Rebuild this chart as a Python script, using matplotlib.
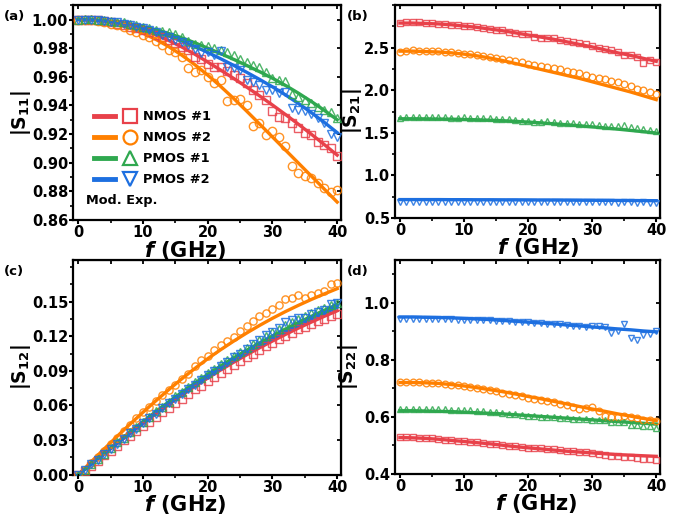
import numpy as np
import matplotlib
matplotlib.use("Agg")
import matplotlib.pyplot as plt
from matplotlib.lines import Line2D
from matplotlib.legend_handler import HandlerTuple
from matplotlib.ticker import MultipleLocator, FormatStrFormatter

plt.rcParams["font.family"] = ["DejaVu Sans"]
plt.rcParams["font.weight"] = "bold"
plt.rcParams["axes.labelweight"] = "bold"
plt.rcParams["mathtext.fontset"] = "custom"
plt.rcParams["mathtext.it"] = "DejaVu Sans:italic:bold"
plt.rcParams["mathtext.rm"] = "DejaVu Sans"
plt.rcParams["mathtext.default"] = "regular"

# frequency grids (GHz): model curves every 2 GHz, measurements every 1 GHz
f_mod = list(range(0, 41, 2))
f_exp = list(range(0, 41))

devices = ["NMOS #1", "NMOS #2", "PMOS #1", "PMOS #2"]
colors = ["#E8414A", "#FF8000", "#2FA84F", "#1D6FE0"]
markers = ["s", "o", "^", "v"]

# ---- |S11| ----
s11_mod_n1 = [1.0000, 0.9997, 0.9988, 0.9973, 0.9952, 0.9925, 0.9892, 0.9853, 0.9808, 0.9758, 0.9703,
              0.9647, 0.9589, 0.9529, 0.9467, 0.9403, 0.9337, 0.9269, 0.9199, 0.9127, 0.9053]
s11_mod_n2 = [1.0000, 0.9996, 0.9985, 0.9966, 0.9939, 0.9904, 0.9861, 0.9810, 0.9751, 0.9685, 0.9612,
              0.9533, 0.9449, 0.9361, 0.9271, 0.9180, 0.9089, 0.8998, 0.8907, 0.8816, 0.8725]
s11_mod_p1 = [1.0000, 0.9998, 0.9992, 0.9982, 0.9968, 0.9950, 0.9928, 0.9902, 0.9872, 0.9838, 0.9800,
              0.9762, 0.9722, 0.9680, 0.9636, 0.9590, 0.9540, 0.9486, 0.9428, 0.9366, 0.9300]
s11_mod_p2 = [1.0000, 0.9998, 0.9991, 0.9979, 0.9962, 0.9940, 0.9914, 0.9884, 0.9850, 0.9812, 0.9770,
              0.9726, 0.9680, 0.9632, 0.9582, 0.9530, 0.9474, 0.9414, 0.9350, 0.9282, 0.9210]
s11_exp_n1 = [1.000, 1.000, 0.9998, 0.9995, 0.999, 0.998, 0.997, 0.996, 0.995, 0.994, 0.9925, 0.991, 0.9895,
              0.9875, 0.9855, 0.9835, 0.981, 0.9785, 0.9735, 0.9725, 0.969, 0.967, 0.9665, 0.964, 0.961,
              0.959, 0.956, 0.951, 0.947, 0.944, 0.936, 0.932, 0.9315, 0.928, 0.924, 0.921, 0.9195, 0.9145,
              0.9125, 0.910, 0.9045]
s11_exp_n2 = [1.000, 1.000, 0.9995, 0.999, 0.998, 0.997, 0.9965, 0.995, 0.993, 0.991, 0.989, 0.9875, 0.985,
              0.982, 0.979, 0.977, 0.974, 0.966, 0.9633, 0.9645, 0.960, 0.9556, 0.9575, 0.943, 0.9436,
              0.9448, 0.940, 0.9255, 0.9278, 0.919, 0.922, 0.9176, 0.912, 0.898, 0.893, 0.891, 0.889, 0.886,
              0.882, 0.8797, 0.881]
s11_exp_p1 = [1.000, 1.0005, 1.0003, 1.000, 0.9995, 0.999, 0.9985, 0.998, 0.997, 0.996, 0.995, 0.994, 0.993,
              0.992, 0.9915, 0.990, 0.9875, 0.985, 0.983, 0.982, 0.9815, 0.980, 0.9785, 0.977, 0.975, 0.9725,
              0.9705, 0.968, 0.9665, 0.963, 0.9595, 0.958, 0.957, 0.948, 0.946, 0.944, 0.9415, 0.939, 0.937,
              0.9355, 0.931]
s11_exp_p2 = [1.000, 1.000, 0.9998, 0.9995, 0.999, 0.9985, 0.998, 0.997, 0.996, 0.995, 0.994, 0.9925, 0.991,
              0.9895, 0.9875, 0.986, 0.984, 0.982, 0.9795, 0.9765, 0.977, 0.9755, 0.978, 0.967, 0.966, 0.9645,
              0.958, 0.9565, 0.954, 0.951, 0.951, 0.949, 0.9495, 0.938, 0.937, 0.936, 0.934, 0.9315, 0.928,
              0.920, 0.918]

# ---- |S21| ----
s21_mod_n1 = [2.79, 2.79, 2.785, 2.78, 2.77, 2.755, 2.74, 2.72, 2.70, 2.675, 2.65, 2.625, 2.60, 2.57, 2.54,
              2.51, 2.475, 2.44, 2.41, 2.375, 2.34]
s21_mod_n2 = [2.46, 2.46, 2.455, 2.45, 2.44, 2.425, 2.405, 2.38, 2.35, 2.315, 2.28, 2.245, 2.21, 2.175, 2.14,
              2.10, 2.06, 2.02, 1.98, 1.935, 1.89]
s21_mod_p1 = [1.665, 1.665, 1.664, 1.662, 1.660, 1.657, 1.653, 1.648, 1.642, 1.635, 1.626, 1.617, 1.606, 1.595,
              1.583, 1.570, 1.557, 1.543, 1.528, 1.513, 1.497]
s21_mod_p2 = [0.715, 0.715, 0.715, 0.715, 0.714, 0.714, 0.713, 0.713, 0.712, 0.712, 0.711, 0.710, 0.710, 0.709,
              0.708, 0.707, 0.706, 0.705, 0.704, 0.703, 0.702]
s21_exp_n1 = [2.79, 2.80, 2.80, 2.80, 2.79, 2.79, 2.78, 2.78, 2.77, 2.77, 2.76, 2.75, 2.74, 2.73, 2.72, 2.71,
              2.71, 2.69, 2.67, 2.66, 2.66, 2.63, 2.62, 2.61, 2.61, 2.59, 2.58, 2.57, 2.55, 2.54, 2.52, 2.50,
              2.49, 2.47, 2.45, 2.42, 2.41, 2.39, 2.32, 2.35, 2.33]
s21_exp_n2 = [2.45, 2.46, 2.47, 2.46, 2.46, 2.46, 2.46, 2.45, 2.45, 2.44, 2.43, 2.43, 2.41, 2.40, 2.39, 2.38,
              2.37, 2.36, 2.34, 2.33, 2.31, 2.30, 2.29, 2.27, 2.26, 2.25, 2.23, 2.22, 2.20, 2.18, 2.16, 2.14,
              2.13, 2.11, 2.10, 2.07, 2.05, 2.02, 2.00, 1.98, 1.96]
s21_exp_p1 = [1.67, 1.68, 1.68, 1.68, 1.68, 1.68, 1.68, 1.68, 1.67, 1.67, 1.68, 1.67, 1.67, 1.67, 1.67, 1.66,
              1.66, 1.66, 1.65, 1.64, 1.64, 1.63, 1.63, 1.64, 1.63, 1.62, 1.62, 1.61, 1.60, 1.60, 1.60, 1.59,
              1.58, 1.58, 1.58, 1.59, 1.57, 1.56, 1.55, 1.53, 1.52]
s21_exp_p2 = [0.690, 0.688, 0.690, 0.688, 0.690, 0.689, 0.690, 0.689, 0.690, 0.689, 0.690, 0.689, 0.689, 0.690,
              0.688, 0.689, 0.690, 0.688, 0.689, 0.690, 0.688, 0.689, 0.690, 0.688, 0.689, 0.688, 0.687, 0.688,
              0.686, 0.688, 0.687, 0.686, 0.685, 0.686, 0.678, 0.684, 0.683, 0.675, 0.682, 0.680, 0.679]

# ---- |S12| ----
s12_mod_n1 = [0.0, 0.0090, 0.0180, 0.0269, 0.0357, 0.0443, 0.0527, 0.0609, 0.0688, 0.0764, 0.0837, 0.0907,
              0.0974, 0.1038, 0.1099, 0.1158, 0.1215, 0.1270, 0.1322, 0.1372, 0.1420]
s12_mod_n2 = [0.0, 0.0112, 0.0223, 0.0332, 0.0438, 0.0541, 0.0641, 0.0738, 0.0831, 0.0920, 0.1005, 0.1083,
              0.1157, 0.1227, 0.1293, 0.1355, 0.1413, 0.1467, 0.1518, 0.1566, 0.1612]
s12_mod_p1 = [0.0, 0.0094, 0.0187, 0.0279, 0.0370, 0.0460, 0.0547, 0.0632, 0.0714, 0.0793, 0.0869, 0.0942,
              0.1012, 0.1078, 0.1141, 0.1202, 0.1262, 0.1318, 0.1372, 0.1424, 0.1475]
s12_mod_p2 = [0.0, 0.0092, 0.0183, 0.0273, 0.0362, 0.0450, 0.0535, 0.0618, 0.0698, 0.0775, 0.0849, 0.0920,
              0.0988, 0.1053, 0.1115, 0.1180, 0.1240, 0.1295, 0.1350, 0.1400, 0.1450]
s12_exp_n1 = [0.0, 0.003, 0.008, 0.012, 0.017, 0.021, 0.025, 0.030, 0.034, 0.038, 0.042, 0.046, 0.050, 0.054,
              0.058, 0.062, 0.066, 0.070, 0.074, 0.077, 0.081, 0.085, 0.088, 0.092, 0.095, 0.0985, 0.102, 0.105,
              0.108, 0.1115, 0.1145, 0.1175, 0.120, 0.123, 0.126, 0.128, 0.1305, 0.133, 0.135, 0.1375, 0.139]
s12_exp_n2 = [0.0, 0.004, 0.010, 0.015, 0.021, 0.027, 0.032, 0.038, 0.043, 0.049, 0.054, 0.059, 0.064, 0.069,
              0.073, 0.078, 0.083, 0.087, 0.0939, 0.0997, 0.1026, 0.1084, 0.1127, 0.1156, 0.1194, 0.1243,
              0.1286, 0.133, 0.1373, 0.1402, 0.1437, 0.1474, 0.1524, 0.1532, 0.1561, 0.1532, 0.1561, 0.1576,
              0.159, 0.1648, 0.1663]
s12_exp_p1 = [0.0, 0.004, 0.009, 0.014, 0.018, 0.023, 0.028, 0.032, 0.037, 0.041, 0.046, 0.050, 0.055, 0.059,
              0.063, 0.068, 0.072, 0.076, 0.080, 0.084, 0.088, 0.092, 0.096, 0.0995, 0.103, 0.1065, 0.110,
              0.1135, 0.117, 0.120, 0.1235, 0.1265, 0.1295, 0.1325, 0.135, 0.1375, 0.140, 0.1425, 0.1445,
              0.147, 0.149]
s12_exp_p2 = [0.0, 0.004, 0.009, 0.013, 0.018, 0.022, 0.027, 0.031, 0.036, 0.040, 0.045, 0.049, 0.053, 0.058,
              0.062, 0.066, 0.070, 0.074, 0.078, 0.082, 0.086, 0.090, 0.094, 0.098, 0.102, 0.105, 0.109,
              0.1135, 0.117, 0.121, 0.124, 0.127, 0.132, 0.134, 0.136, 0.136, 0.139, 0.141, 0.143, 0.148, 0.149]

# ---- |S22| ----
s22_mod_n1 = [0.527, 0.526, 0.524, 0.521, 0.517, 0.513, 0.509, 0.505, 0.500, 0.495, 0.491, 0.487, 0.483,
              0.479, 0.476, 0.473, 0.470, 0.467, 0.465, 0.463, 0.461]
s22_mod_n2 = [0.720, 0.720, 0.719, 0.717, 0.713, 0.708, 0.702, 0.695, 0.688, 0.680, 0.671, 0.663, 0.654,
              0.645, 0.636, 0.627, 0.619, 0.610, 0.602, 0.594, 0.586]
s22_mod_p1 = [0.621, 0.621, 0.620, 0.619, 0.618, 0.616, 0.614, 0.612, 0.610, 0.607, 0.604, 0.601, 0.598,
              0.595, 0.592, 0.589, 0.586, 0.583, 0.580, 0.577, 0.574]
s22_mod_p2 = [0.950, 0.950, 0.949, 0.948, 0.947, 0.945, 0.943, 0.941, 0.938, 0.935, 0.932, 0.929, 0.926,
              0.922, 0.919, 0.915, 0.912, 0.908, 0.905, 0.901, 0.898]
s22_exp_n1 = [0.530, 0.529, 0.529, 0.527, 0.526, 0.524, 0.522, 0.520, 0.518, 0.516, 0.514, 0.512, 0.510,
              0.508, 0.506, 0.503, 0.501, 0.498, 0.496, 0.494, 0.492, 0.490, 0.489, 0.487, 0.485, 0.483,
              0.480, 0.478, 0.476, 0.475, 0.474, 0.470, 0.465, 0.463, 0.461, 0.459, 0.457, 0.455, 0.453,
              0.451, 0.447]
s22_exp_n2 = [0.722, 0.723, 0.722, 0.721, 0.720, 0.718, 0.717, 0.715, 0.713, 0.711, 0.708, 0.704, 0.701,
              0.698, 0.694, 0.689, 0.684, 0.680, 0.676, 0.672, 0.667, 0.663, 0.659, 0.654, 0.650, 0.646,
              0.641, 0.633, 0.628, 0.631, 0.633, 0.620, 0.604, 0.598, 0.600, 0.602, 0.598, 0.594, 0.590,
              0.588, 0.585]
s22_exp_p1 = [0.627, 0.627, 0.627, 0.627, 0.627, 0.626, 0.626, 0.626, 0.625, 0.624, 0.623, 0.622, 0.621,
              0.620, 0.618, 0.616, 0.613, 0.611, 0.609, 0.607, 0.604, 0.602, 0.600, 0.599, 0.598, 0.597,
              0.595, 0.593, 0.592, 0.591, 0.590, 0.589, 0.588, 0.582, 0.583, 0.582, 0.571, 0.570, 0.568,
              0.566, 0.562]
s22_exp_p2 = [0.944, 0.944, 0.944, 0.943, 0.943, 0.943, 0.943, 0.942, 0.942, 0.941, 0.941, 0.940, 0.940,
              0.939, 0.938, 0.937, 0.936, 0.935, 0.934, 0.932, 0.931, 0.930, 0.928, 0.927, 0.925, 0.924,
              0.922, 0.919, 0.917, 0.915, 0.920, 0.917, 0.914, 0.893, 0.902, 0.925, 0.876, 0.868, 0.888,
              0.889, 0.900]

panels = [
    dict(tag="(a)", ylabel="|S$_{11}$|", ylim=(0.86, 1.01), fmt="%.2f",
         yticks=[0.86, 0.88, 0.90, 0.92, 0.94, 0.96, 0.98, 1.00], minor=0.01,
         mod=[s11_mod_n1, s11_mod_n2, s11_mod_p1, s11_mod_p2],
         exp=[s11_exp_n1, s11_exp_n2, s11_exp_p1, s11_exp_p2], ms=6.0),
    dict(tag="(b)", ylabel="|S$_{21}$|", ylim=(0.5, 3.0), fmt="%.1f",
         yticks=[0.5, 1.0, 1.5, 2.0, 2.5], minor=0.25,
         mod=[s21_mod_n1, s21_mod_n2, s21_mod_p1, s21_mod_p2],
         exp=[s21_exp_n1, s21_exp_n2, s21_exp_p1, s21_exp_p2], ms=4.8),
    dict(tag="(c)", ylabel="|S$_{12}$|", ylim=(0.0, 0.186), fmt="%.2f",
         yticks=[0.0, 0.03, 0.06, 0.09, 0.12, 0.15], minor=0.015,
         mod=[s12_mod_n1, s12_mod_n2, s12_mod_p1, s12_mod_p2],
         exp=[s12_exp_n1, s12_exp_n2, s12_exp_p1, s12_exp_p2], ms=5.2),
    dict(tag="(d)", ylabel="|S$_{22}$|", ylim=(0.4, 1.15), fmt="%.1f",
         yticks=[0.4, 0.6, 0.8, 1.0], minor=0.1,
         mod=[s22_mod_n1, s22_mod_n2, s22_mod_p1, s22_mod_p2],
         exp=[s22_exp_n1, s22_exp_n2, s22_exp_p1, s22_exp_p2], ms=4.8),
]

# axes boxes in figure fractions: left, bottom, width, height
boxes = [
    [0.106, 0.577, 0.389, 0.413],
    [0.573, 0.581, 0.385, 0.409],
    [0.106, 0.087, 0.389, 0.413],
    [0.573, 0.089, 0.385, 0.411],
]
tag_pos = [(0.006, 0.969), (0.504, 0.969), (0.006, 0.478), (0.504, 0.478)]
ylabel_x = [-0.195, -0.163, -0.195, -0.177]
xlabel_x = [0.418, 0.54, 0.418, 0.534]

fig = plt.figure(figsize=(6.89, 5.2), dpi=100)

for k, (p, box) in enumerate(zip(panels, boxes)):
    ax = fig.add_axes(box)
    for i in range(4):
        ax.plot(f_mod, p["mod"][i], color=colors[i], lw=2.4, zorder=2)
        ax.plot(f_exp, p["exp"][i], linestyle="none", marker=markers[i], ms=p["ms"],
                mfc="none", mec=colors[i], mew=1.0, alpha=0.85, zorder=3)
    ax.set_xlim(-0.8, 40.6)
    ax.set_ylim(*p["ylim"])
    ax.set_xticks([0, 10, 20, 30, 40])
    ax.xaxis.set_minor_locator(MultipleLocator(5))
    ax.set_yticks(p["yticks"])
    ax.yaxis.set_minor_locator(MultipleLocator(p["minor"]))
    ax.yaxis.set_major_formatter(FormatStrFormatter(p["fmt"]))
    ax.tick_params(which="major", direction="out", length=3, width=1.5, labelsize=10.5, pad=0.5)
    ax.tick_params(which="minor", direction="out", length=2, width=1.2)
    for s in ax.spines.values():
        s.set_linewidth(1.6)

    # inward ticks on the top and right edges
    top = ax.secondary_xaxis("top")
    top.set_xticks([0, 5, 10, 15, 20, 25, 30, 35, 40])
    top.tick_params(direction="in", length=3, width=1.3, labeltop=False)
    right = ax.secondary_yaxis("right")
    right.set_yticks(p["yticks"])
    right.tick_params(direction="in", length=3, width=1.3, labelright=False)

    ax.set_xlabel(r"$\mathit{f}$ (GHz)", fontsize=15, fontweight="bold", va="center")
    ax.xaxis.set_label_coords(xlabel_x[k], -0.14)
    ax.set_ylabel(p["ylabel"], fontsize=13.5, fontweight="bold", va="center")
    ax.yaxis.set_label_coords(ylabel_x[k], 0.5)
    for lab in ax.get_xticklabels() + ax.get_yticklabels():
        lab.set_fontweight("bold")
    fig.text(tag_pos[k][0], tag_pos[k][1], p["tag"], fontsize=9.5, fontweight="bold", va="center")

    if p["tag"] == "(a)":
        handles = []
        for i in range(4):
            ln = Line2D([], [], color=colors[i], lw=3.5)
            mk = Line2D([], [], linestyle="none", marker=markers[i], ms=10, mfc="none",
                        mec=colors[i], mew=1.6)
            handles.append((ln, mk))
        ax.legend(handles, devices, handler_map={tuple: HandlerTuple(ndivide=None, pad=0.4)},
                  loc="upper left", bbox_to_anchor=(0.06, 0.535), frameon=False,
                  prop={"weight": "bold", "size": 9.3}, handlelength=3.6, handletextpad=0.15,
                  labelspacing=0.62, borderaxespad=0)
        ax.text(0.05, 0.09, "Mod. Exp.", transform=ax.transAxes, fontsize=9.3,
                fontweight="bold", va="center")

fig.savefig("out.png", dpi=100)
